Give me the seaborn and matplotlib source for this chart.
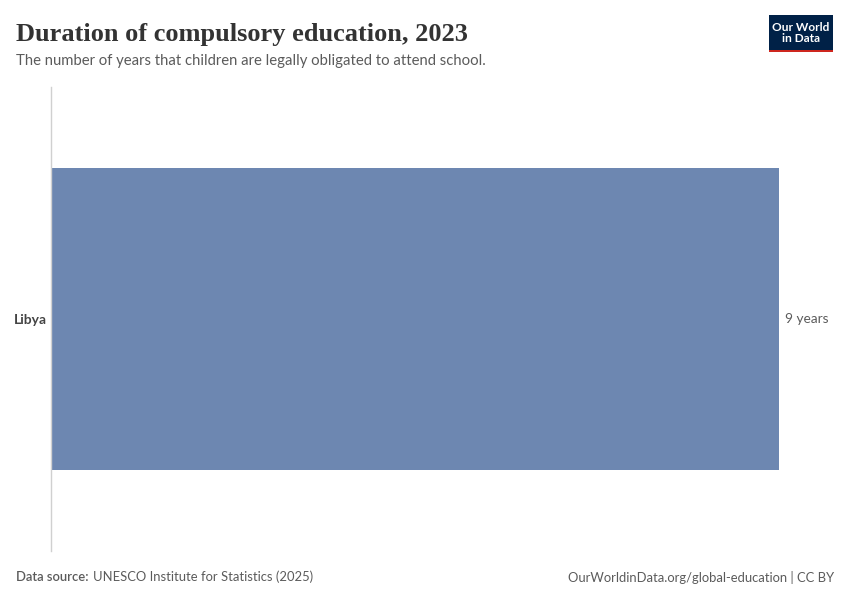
import matplotlib
matplotlib.use("Agg")
import matplotlib.pyplot as plt
import matplotlib.patches as mpatches
import pandas as pd
import seaborn as sns

# data
countries = ["Libya"]
years = [9]
value_labels = ["9 years"]

title = "Duration of compulsory education, 2023"
subtitle = "The number of years that children are legally obligated to attend school."
source = "UNESCO Institute for Statistics (2025)"
url_text = "OurWorldinData.org/global-education | CC BY"

df = pd.DataFrame({"Country": countries, "Years": years})

sns.set_style("white")
plt.rcParams["font.family"] = ["Lato", "DejaVu Sans"]

fig = plt.figure(figsize=(8.5, 6), dpi=100)
ax = fig.add_axes([0.06, 0.0817, 0.8565, 0.7733])

sns.barplot(data=df, x="Years", y="Country", color="#6D87B1", width=0.65,
            saturation=1, ax=ax, edgecolor="none")

ax.set_xlim(0, max(years))
ax.set_ylim(0.5, -0.5)
ax.set_xlabel("")
ax.set_ylabel("")
ax.set_xticks([])
for s in ["top", "right", "bottom"]:
    ax.spines[s].set_visible(False)
ax.spines["left"].set_color("#d0d0d0")
ax.spines["left"].set_linewidth(1)
ax.tick_params(axis="y", length=0, pad=3, labelsize=10, labelcolor="#444444")
for lbl in ax.get_yticklabels():
    lbl.set_fontweight("bold")

for i, (v, t) in enumerate(zip(years, value_labels)):
    ax.annotate(t, (v, i), xytext=(4, 0), textcoords="offset points",
                va="center", ha="left", fontsize=9.8, color="#5b5b5b")

# header
fig.text(0.019, 0.943, title, fontsize=19, color="#333333", fontweight="bold",
         family=["Liberation Serif", "DejaVu Serif"], va="center")
fig.text(0.019, 0.898, subtitle, fontsize=10.7, color="#5b5b5b", va="center")

# logo
logo = mpatches.Rectangle((769 / 850, 1 - 52 / 600), 64 / 850, 37 / 600,
                          transform=fig.transFigure, facecolor="#002147",
                          edgecolor="none")
fig.add_artist(logo)
bar_red = mpatches.Rectangle((769 / 850, 1 - 52 / 600), 64 / 850, 2.5 / 600,
                             transform=fig.transFigure, facecolor="#ce261e",
                             edgecolor="none")
fig.add_artist(bar_red)
fig.text(801 / 850, 1 - 33 / 600, "Our World\nin Data", color="white",
         fontsize=8.6, fontweight="bold", ha="center", va="center", linespacing=1.0)

# footer
lead = fig.text(0.019, 0.038, "Data source:", fontsize=9.4, color="#5b5b5b",
                fontweight="semibold", va="center")
fig.canvas.draw()
bb = lead.get_window_extent().transformed(fig.transFigure.inverted())
fig.text(bb.x1 + 0.005, 0.038, source, fontsize=9.4, color="#5b5b5b", va="center")
fig.text(0.981, 0.038, url_text, fontsize=9.4, color="#5b5b5b", va="center", ha="right")

fig.savefig("out.png", dpi=100)
